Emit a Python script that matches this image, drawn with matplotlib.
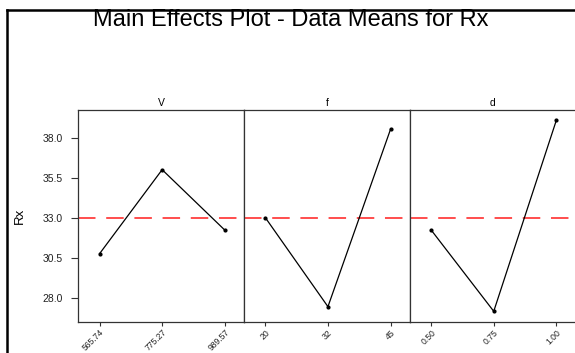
import matplotlib.pyplot as plt
from matplotlib.lines import Line2D

plt.rcParams['font.family'] = ['Liberation Sans', 'DejaVu Sans']

# factor levels and response means
factors = ["V", "f", "d"]
levels = [["565.74", "775.27", "989.57"], ["20", "32", "45"], ["0.50", "0.75", "1.00"]]
means_V = [30.79, 36.04, 32.27]
means_f = [33.04, 27.48, 38.56]
means_d = [32.27, 27.19, 39.12]
means = [means_V, means_f, means_d]
grand_mean = 33.0
yticks = [28.0, 30.5, 33.0, 35.5, 38.0]

W, H = 575, 353
fig = plt.figure(figsize=(W / 100, H / 100), dpi=100)

# panel geometry in pixels
x0, pw = 78.3, 165.8
top, bot = 110, 321.7

axes = []
for i in range(3):
    ax = fig.add_axes([(x0 + i * pw) / W, (H - bot) / H, pw / W, (bot - top) / H])
    ax.plot(range(3), means[i], color="black", lw=0.9, marker="o", ms=2.0)
    ax.axhline(grand_mean, color="#ff4d4d", lw=1.4, dashes=(9, 5.5), zorder=0)
    ax.set_xlim(-0.34, 2.31)
    ax.set_ylim(26.54, 39.77)
    ax.set_xticks(range(3))
    ax.set_xticklabels(levels[i], rotation=45, ha="right", rotation_mode="anchor",
                       fontsize=6.2, color="#222222")
    ax.tick_params(axis="x", length=3, width=0.8, pad=1.5, color="#333333")
    for s in ax.spines.values():
        s.set_color("#333333")
        s.set_linewidth(0.9)
    if i == 0:
        ax.set_yticks(yticks)
        ax.set_yticklabels([f"{v:.1f}" for v in yticks], fontsize=7.5, color="#222222")
        ax.tick_params(axis="y", length=5, width=0.8, pad=6, color="#333333")
    else:
        ax.set_yticks([])
    ax.set_title(factors[i], fontsize=7.5, pad=3)
    axes.append(ax)

axes[0].set_ylabel("Rx", fontsize=9.5, labelpad=12)

fig.text(291 / W, 1 - 20 / H, "Main Effects Plot - Data Means for Rx",
         ha="center", va="center", fontsize=17)

# outer graph frame
fig.add_artist(Line2D([7.3 / W, 7.3 / W], [0, 1 - 10 / H], transform=fig.transFigure,
                      color="black", lw=1.8))
fig.add_artist(Line2D([7.3 / W, 1], [1 - 10 / H, 1 - 10 / H], transform=fig.transFigure,
                      color="black", lw=1.8))

fig.savefig("out.png", dpi=100)
